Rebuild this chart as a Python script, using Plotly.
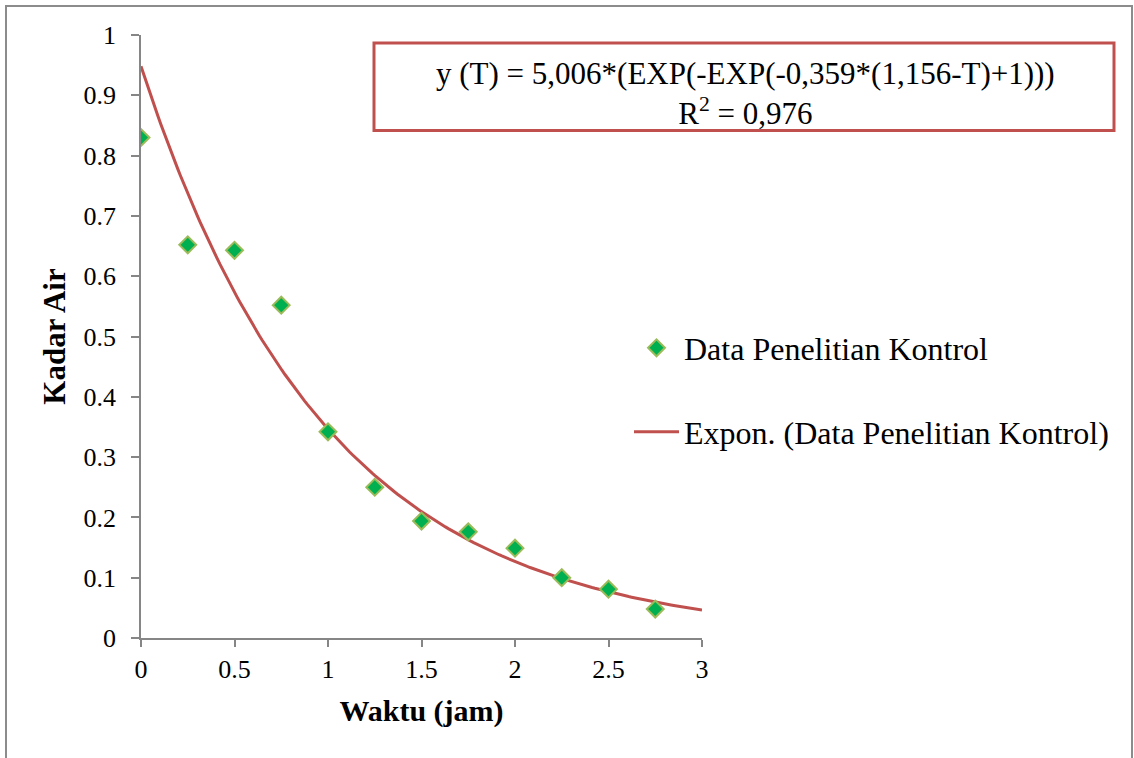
import numpy as np
import plotly.graph_objects as go

# Data
waktu = [0, 0.25, 0.5, 0.75, 1.0, 1.25, 1.5, 1.75, 2.0, 2.25, 2.5, 2.75]
kadar_air = [0.830, 0.652, 0.643, 0.552, 0.342, 0.250, 0.194, 0.176, 0.149, 0.100, 0.081, 0.048]
x_ticks = [0, 0.5, 1, 1.5, 2, 2.5, 3]
x_tick_labels = ["0", "0.5", "1", "1.5", "2", "2.5", "3"]
y_ticks = [0, 0.1, 0.2, 0.3, 0.4, 0.5, 0.6, 0.7, 0.8, 0.9, 1]
y_tick_labels = ["0", "0.1", "0.2", "0.3", "0.4", "0.5", "0.6", "0.7", "0.8", "0.9", "1"]
series_name = "Data Penelitian Kontrol"
trend_name = "Expon. (Data Penelitian Kontrol)"
equation_text = "y (T) = 5,006*(EXP(-EXP(-0,359*(1,156-T)+1)))<br>R<sup>2</sup> = 0,976"

# Exponential trendline (least squares on ln y, like Excel), forecast to x=3
b, ln_a = np.polyfit(np.array(waktu), np.log(np.array(kadar_air)), 1)
trend_x = np.linspace(0, 3, 200)
trend_y = np.exp(ln_a) * np.exp(b * trend_x)

FONT = "Liberation Serif"
AXIS_GREY = "#868686"

fig = go.Figure()
fig.add_trace(go.Scatter(
    x=trend_x, y=trend_y, mode="lines", name=trend_name,
    line=dict(color="#C0504D", width=3), legend="legend2",
))
fig.add_trace(go.Scatter(
    x=waktu, y=kadar_air, mode="markers", name=series_name,
    marker=dict(symbol="diamond", size=13, color="#00B050",
                line=dict(color="#9BBB59", width=2)),
    legend="legend",
))

W, H = 1134, 758
L, R, T, B = 141, 702, 35, 638
pw, ph = R - L, B - T

def px_x(px):
    return (px - L) / pw

def px_y(py):
    return (B - py) / ph

fig.update_layout(
    width=W, height=H,
    margin=dict(l=L, r=W - R, t=T, b=H - B),
    paper_bgcolor="white", plot_bgcolor="white",
    font=dict(family=FONT, color="black", size=26),
    xaxis=dict(
        range=[0, 3], tickvals=x_ticks, ticktext=x_tick_labels,
        showgrid=False, zeroline=False, showline=True, linecolor=AXIS_GREY, linewidth=1.5,
        ticks="outside", ticklen=7, tickcolor=AXIS_GREY, tickwidth=1.5,
        tickfont=dict(family=FONT, size=26, color="black"),
        title=dict(text="<b>Waktu (jam)</b>", font=dict(family=FONT, size=30, color="black"), standoff=17),
    ),
    yaxis=dict(
        range=[0, 1], tickvals=y_ticks, ticktext=y_tick_labels,
        showgrid=False, zeroline=False, showline=True, linecolor=AXIS_GREY, linewidth=1.5,
        ticks="outside", ticklen=8, tickcolor=AXIS_GREY, tickwidth=1.5, ticklabelstandoff=10,
        tickfont=dict(family=FONT, size=26, color="black"),
        title=dict(text="<b>Kadar Air</b>", font=dict(family=FONT, size=31, color="black"), standoff=9),
    ),
    legend=dict(
        x=px_x(629), y=px_y(348), xanchor="left", yanchor="middle", itemwidth=45,
        font=dict(family=FONT, size=32, color="black"), bgcolor="rgba(0,0,0,0)",
    ),
    legend2=dict(
        x=px_x(629), y=px_y(432), xanchor="left", yanchor="middle", itemwidth=45,
        font=dict(family=FONT, size=32, color="black"), bgcolor="rgba(0,0,0,0)",
    ),
    showlegend=True,
)

# Equation box
fig.add_shape(
    type="rect", xref="paper", yref="paper",
    x0=px_x(374), x1=px_x(1114), y0=px_y(130.5), y1=px_y(43),
    line=dict(color="#C0504D", width=3), fillcolor="white", layer="above",
)
fig.add_annotation(
    x=px_x(745), y=px_y(93), xref="paper", yref="paper",
    xanchor="center", yanchor="middle", showarrow=False,
    text=equation_text, align="center",
    font=dict(family=FONT, size=31, color="black"),
)

# Outer chart frame
fig.add_shape(
    type="rect", xref="paper", yref="paper",
    x0=px_x(6), x1=px_x(1132), y0=px_y(775), y1=px_y(6),
    line=dict(color="#8C8C8C", width=2), fillcolor="rgba(0,0,0,0)", layer="below",
)

fig.write_html("out.html")
